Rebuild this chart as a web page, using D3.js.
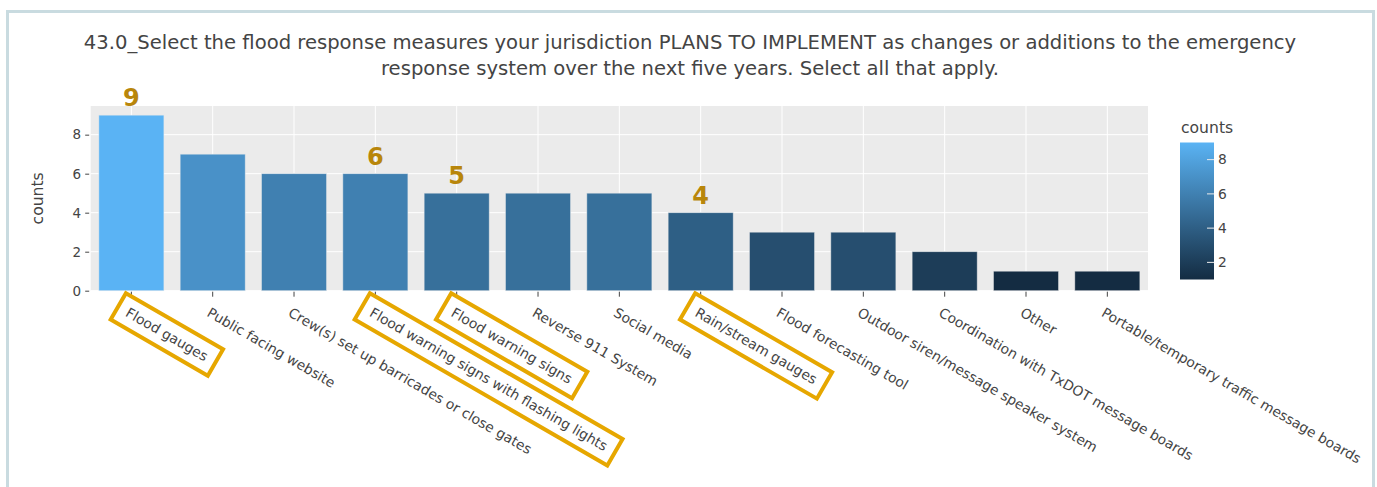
<!DOCTYPE html>
<html>
<head>
<meta charset="utf-8">
<script src="https://cdn.jsdelivr.net/npm/d3@7"></script>
<style>
  html, body { margin: 0; padding: 0; background: #ffffff; }
  svg { display: block; }
  text { font-family: "DejaVu Sans", Verdana, sans-serif; }
</style>
</head>
<body>
<svg id="chart" width="1377" height="487"></svg>
<script>
// ---------- data ----------
const categories = [
  "Flood gauges",
  "Public facing website",
  "Crew(s) set up barricades or close gates",
  "Flood warning signs with flashing lights",
  "Flood warning signs",
  "Reverse 911 System",
  "Social media",
  "Rain/stream gauges",
  "Flood forecasting tool",
  "Outdoor siren/message speaker system",
  "Coordination with TxDOT message boards",
  "Other",
  "Portable/temporary traffic message boards"
];
const counts = [9, 7, 6, 6, 5, 5, 5, 4, 3, 3, 2, 1, 1];
const highlighted = [
  "Flood gauges",
  "Flood warning signs with flashing lights",
  "Flood warning signs",
  "Rain/stream gauges"
];
const yTicks = [0, 2, 4, 6, 8];
const colorbarTicks = [2, 4, 6, 8];
const titleLines = [
  "43.0_Select the flood response measures your jurisdiction PLANS TO IMPLEMENT as changes or additions to the emergency",
  "response system over the next five years. Select all that apply."
];
const yTitle = "counts";
const colorbarTitle = "counts";

// ---------- layout ----------
const svg = d3.select("#chart");
const plot = { left: 90.7, right: 1148, top: 106, bottom: 290.7 };
const textColor = "#444444";
const labelColor = "#b8860b";
const boxColor = "#e6a700";

// frame
svg.append("rect")
  .attr("x", 7.5).attr("y", 11.5)
  .attr("width", 1366).attr("height", 500)
  .attr("fill", "#ffffff")
  .attr("stroke", "#c9dbe0").attr("stroke-width", 3);

// scales
const x = d3.scaleBand().domain(categories)
  .range([plot.left, plot.right]).paddingInner(0.2).paddingOuter(0.1);
const y = d3.scaleLinear().domain([0, 9.47]).range([plot.bottom, plot.top]);
const cmin = 1, cmax = 9;
const color = d3.scaleLinear().domain([cmin, cmax])
  .range(["rgb(20,44,66)", "rgb(90,179,244)"]).interpolate(d3.interpolateRgb);

// plot background
svg.append("rect")
  .attr("x", plot.left).attr("y", plot.top)
  .attr("width", plot.right - plot.left).attr("height", plot.bottom - plot.top)
  .attr("fill", "#ebebeb");

// grid
svg.append("g").selectAll("line").data(yTicks).join("line")
  .attr("x1", plot.left).attr("x2", plot.right)
  .attr("y1", d => y(d)).attr("y2", d => y(d))
  .attr("stroke", "#ffffff").attr("stroke-width", 1);
svg.append("g").selectAll("line").data(categories).join("line")
  .attr("x1", d => x(d) + x.bandwidth() / 2).attr("x2", d => x(d) + x.bandwidth() / 2)
  .attr("y1", plot.top).attr("y2", plot.bottom)
  .attr("stroke", "#ffffff").attr("stroke-width", 1);

// bars
const data = categories.map((c, i) => ({ cat: c, v: counts[i] }));
svg.append("g").selectAll("rect").data(data).join("rect")
  .attr("x", d => x(d.cat)).attr("width", x.bandwidth())
  .attr("y", d => y(d.v)).attr("height", d => y(0) - y(d.v))
  .attr("fill", d => color(d.v))
  .attr("stroke", "rgba(237,237,237,0.6)").attr("stroke-width", 0.8);

// y axis
const yAxis = d3.axisLeft(y).tickValues(yTicks).tickSize(4).tickPadding(4);
const gy = svg.append("g").attr("transform", `translate(${plot.left - 1.5},0)`).call(yAxis);
gy.select(".domain").remove();
gy.selectAll(".tick line").attr("stroke", textColor);
gy.selectAll(".tick text").attr("fill", textColor).style("font-size", "13.5px")
  .style("font-family", "'DejaVu Sans', Verdana, sans-serif");

// x axis ticks
const gx = svg.append("g");
gx.selectAll("line").data(categories).join("line")
  .attr("x1", d => x(d) + x.bandwidth() / 2).attr("x2", d => x(d) + x.bandwidth() / 2)
  .attr("y1", plot.bottom + 1).attr("y2", plot.bottom + 6)
  .attr("stroke", textColor);

const labels = gx.selectAll("g.lab").data(categories).join("g")
  .attr("class", "lab")
  .attr("transform", d => `translate(${x(d) + x.bandwidth() / 2 - 6.8},315.5) rotate(30)`);
labels.append("text")
  .attr("x", 0).attr("y", 0)
  .attr("fill", textColor).style("font-size", "13.8px")
  .text(d => d);

// highlight boxes around selected labels
labels.filter(d => highlighted.includes(d)).each(function () {
  const g = d3.select(this);
  const bb = g.select("text").node().getBBox();
  const padX = 10, padTop = 7, padBottom = 7.5;
  g.insert("rect", "text")
    .attr("x", bb.x - padX).attr("y", bb.y - padTop)
    .attr("width", bb.width + 2 * padX).attr("height", bb.height + padTop + padBottom)
    .attr("fill", "none").attr("stroke", boxColor).attr("stroke-width", 4);
});

// value labels above highlighted bars
svg.append("g").selectAll("text").data(data.filter(d => highlighted.includes(d.cat))).join("text")
  .attr("x", d => x(d.cat) + x.bandwidth() / 2)
  .attr("y", d => y(d.v) - 9)
  .attr("text-anchor", "middle")
  .attr("fill", labelColor)
  .style("font-size", "24px").style("font-weight", "bold")
  .text(d => d.v);

// y title
svg.append("text")
  .attr("transform", `translate(43,${(plot.top + plot.bottom) / 2}) rotate(-90)`)
  .attr("text-anchor", "middle")
  .attr("fill", textColor).style("font-size", "15.6px")
  .text(yTitle);

// title
svg.append("g").selectAll("text").data(titleLines).join("text")
  .attr("x", 690).attr("y", (d, i) => 49 + i * 26)
  .attr("text-anchor", "middle")
  .attr("fill", textColor).style("font-size", "19.6px")
  .text(d => d);

// colorbar
const cb = { x: 1180, w: 34, top: 142.5, bottom: 279.5 };
const cy = d3.scaleLinear().domain([cmin, cmax]).range([cb.bottom, cb.top]);
const defs = svg.append("defs");
const grad = defs.append("linearGradient").attr("id", "cbgrad")
  .attr("x1", 0).attr("y1", 1).attr("x2", 0).attr("y2", 0);
grad.append("stop").attr("offset", "0%").attr("stop-color", color(cmin));
grad.append("stop").attr("offset", "100%").attr("stop-color", color(cmax));
svg.append("rect")
  .attr("x", cb.x).attr("y", cb.top).attr("width", cb.w).attr("height", cb.bottom - cb.top)
  .attr("fill", "url(#cbgrad)");
const cbTicks = svg.append("g").selectAll("g").data(colorbarTicks).join("g")
  .attr("transform", d => `translate(0,${cy(d)})`);
cbTicks.append("line")
  .attr("x1", cb.x + cb.w - 7).attr("x2", cb.x + cb.w)
  .attr("stroke", "#ebebeb").attr("stroke-width", 1);
cbTicks.append("text")
  .attr("x", cb.x + cb.w + 4).attr("dy", "0.35em")
  .attr("fill", textColor).style("font-size", "13.8px")
  .text(d => d);
svg.append("text")
  .attr("x", cb.x + 1).attr("y", 133)
  .attr("fill", textColor).style("font-size", "15.6px")
  .text(colorbarTitle);
</script>
</body>
</html>
